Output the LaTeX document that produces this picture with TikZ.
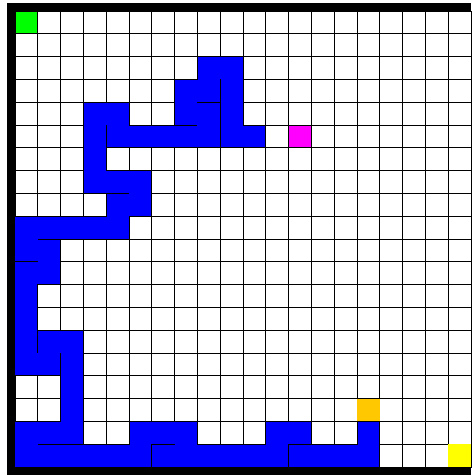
\documentclass[tikz,border=0pt]{standalone}
\definecolor{pathblue}{HTML}{0000FF}
\definecolor{startgreen}{HTML}{00FF00}
\definecolor{magentacell}{HTML}{FF00FF}
\definecolor{orangecell}{HTML}{FFC800}
\definecolor{yellowcell}{HTML}{FFFF00}
\tikzset{
  gridline/.style={draw=black, line width=0.9pt},
  wallline/.style={draw=black, line width=1pt},
  frame/.style={fill=black},
}
\begin{document}
\begin{tikzpicture}[x=1cm,y=-1cm]
\useasboundingbox (-0.658,-0.482) rectangle (20,20.351);
\fill[white] (-0.658,-0.482) rectangle (20,20.351);
% mark blue cells
\foreach \r/\cols in {2/{8,9},3/{7,8,9},4/{3,4,7,8,9},5/{3,4,5,6,7,8,9,10},6/{3},7/{3,4,5},8/{4,5},9/{0,1,2,3,4},10/{0,1},11/{0,1},12/{0},13/{0},14/{0,1,2},15/{0,1,2},16/{2},17/{2},18/{0,1,2,5,6,7,11,12,15},19/{0,1,2,3,4,5,6,7,8,9,10,11,12,13,14,15}}{
  \foreach \c in \cols {
    \expandafter\global\expandafter\let\csname bluecell-\c-\r\endcsname\empty
    \fill[pathblue] (\c,\r) rectangle ++(1,1);
  }
}
% grid lines of non-blue cells
\foreach \c in {0,...,19}{
  \foreach \r in {0,...,19}{
    \ifcsname bluecell-\c-\r\endcsname\else
      \draw[gridline] (\c,\r) rectangle ++(1,1);
    \fi
  }
}
% coloured cells
\filldraw[fill=startgreen, gridline] (0,0) rectangle (1,1);
\filldraw[fill=magentacell, gridline] (12,5) rectangle (13,6);
\fill[orangecell] (15,17) rectangle (16,18);
\fill[yellowcell] (19,19) rectangle (20,20);
% walls inside the blue path
\draw[wallline] (9,3) -- (9,6);
\draw[wallline] (8,4) -- (9,4);
\draw[wallline] (5,5) -- (8,5);
\draw[wallline] (4,5) -- (4,7);
\draw[wallline] (3,8) -- (5,8);
\draw[wallline] (1,10) -- (5,10);
\draw[wallline] (0,11) -- (1,11);
\draw[wallline] (1,12) -- (1,15);
\draw[wallline] (2,15) -- (2,18);
\draw[wallline] (1,19) -- (5,19);
\draw[wallline] (6,19) -- (7,19);
\draw[wallline] (6,19) -- (6,20);
\draw[wallline] (12,19) -- (13,19);
\draw[wallline] (12,19) -- (12,20);
% black frame
\fill[frame] (-0.35,-0.35) rectangle (0,20.35);
\fill[frame] (-0.35,-0.35) rectangle (20,0);
\fill[frame] (-0.35,20) rectangle (20,20.35);
\end{tikzpicture}
\end{document}
